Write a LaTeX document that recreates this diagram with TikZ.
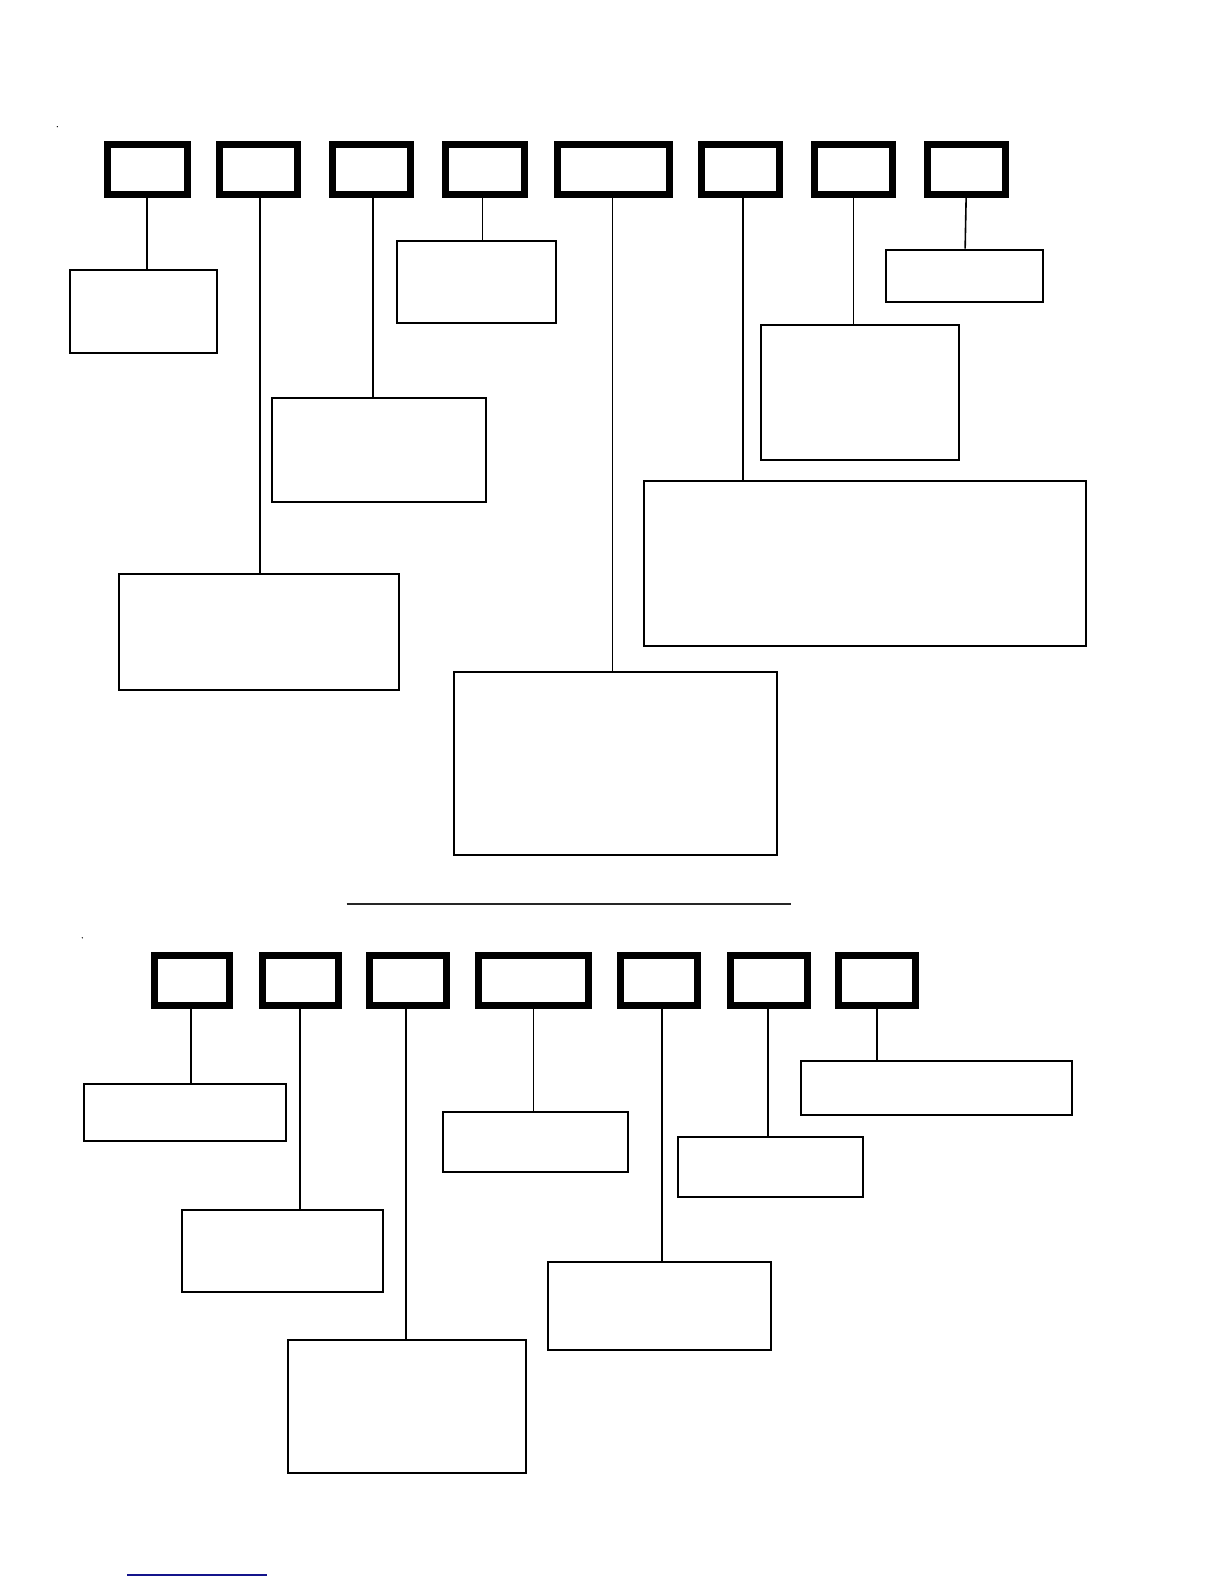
\documentclass[tikz,border=0pt]{standalone}
\begin{document}
\begin{tikzpicture}[x=1.0106pt,y=-1.0106pt,
  hdr/.style={draw=black,line width=7pt,inner sep=0pt},
  tbox/.style={draw=black,line width=2pt,inner sep=0pt},
  conn/.style={draw=black,line width=1.6pt}]
\fill[white] (0,0) rectangle (1211.2,1567.4);
\newcommand\mkhdr[5]{\node[hdr,minimum width={(#4-#2)*1.0106-7},minimum height={(#5-#3)*1.0106-7}] (#1) at ({(#2+#4)/2},{(#3+#5)/2}) {};}
\newcommand\mktbox[5]{\node[tbox,minimum width={(#4-#2)*1.0106-2},minimum height={(#5-#3)*1.0106-2}] (#1) at ({(#2+#4)/2},{(#3+#5)/2}) {};}
% top header row
\mkhdr{h1}{102.5}{140}{189}{196}
\mkhdr{h2}{214}{140}{298}{196}
\mkhdr{h3}{326}{140}{410}{196}
\mkhdr{h4}{437}{140}{522}{196}
\mkhdr{h5}{548}{140}{666}{196}
\mkhdr{h6}{691}{140}{775}{196}
\mkhdr{h7}{802}{140}{887}{196}
\mkhdr{h8}{914}{140}{998}{196}
% top thin boxes
\mktbox{A}{68}{266}{216}{350}
\mktbox{B}{117}{567}{396}{684}
\mktbox{C}{268}{393}{482}{498}
\mktbox{D}{392}{237}{551}{321}
\mktbox{E}{448}{664}{770}{847}
\mktbox{F}{636}{475}{1076}{640}
\mktbox{G}{752}{321}{950}{456}
\mktbox{H}{876}{246}{1033}{300}
\draw[conn] (h1.south) -- (h1.south |- A.north);
\draw[conn] ([xshift=1]h2.south) -- ([xshift=1]h2.south |- B.north);
\draw[conn] ([xshift=1]h3.south) -- ([xshift=1]h3.south |- C.north);
\draw[conn] ([xshift=-2]h4.south) -- ([xshift=-2]h4.south |- D.north);
\draw[conn] ([xshift=-1]h5.south) -- ([xshift=-1]h5.south |- E.north);
\draw[conn] ([xshift=2]h6.south) -- ([xshift=2]h6.south |- F.north);
\draw[conn] (h7.south) -- (h7.south |- G.north);
\draw[conn] (h8.south) -- ([xshift=-1]h8.south |- H.north);
% separator
\coordinate (s1) at (343,895);
\coordinate (s2) at (783,895);
\draw[line width=2pt,draw=black!85] (s1) -- (s2);
% bottom header row
\mkhdr{k1}{149}{942}{231}{998}
\mkhdr{k2}{256}{942}{338}{998}
\mkhdr{k3}{362}{942}{445}{998}
\mkhdr{k4}{470}{942}{586}{998}
\mkhdr{k5}{611}{942}{694}{998}
\mkhdr{k6}{719}{942}{802}{998}
\mkhdr{k7}{826}{942}{909}{998}
% bottom thin boxes
\mktbox{a}{82}{1072}{284}{1130}
\mktbox{b}{179}{1196}{380}{1279}
\mktbox{c}{284}{1325}{521}{1459}
\mktbox{d}{437}{1099}{622}{1161}
\mktbox{e}{541}{1248}{764}{1337}
\mktbox{f}{670}{1124}{855}{1185}
\mktbox{g}{792}{1049}{1062}{1104}
\draw[conn] ([xshift=-1]k1.south) -- ([xshift=-1]k1.south |- a.north);
\draw[conn] (k2.south) -- (k2.south |- b.north);
\draw[conn] ([xshift=-1.5]k3.south) -- ([xshift=-1.5]k3.south |- c.north);
\draw[conn] (k4.south) -- (k4.south |- d.north);
\draw[conn] ([xshift=2.5]k5.south) -- ([xshift=2.5]k5.south |- e.north);
\draw[conn] ([xshift=-0.5]k6.south) -- ([xshift=-0.5]k6.south |- f.north);
\draw[conn] (k7.south) -- (k7.south |- g.north);
% tiny specks
\fill[black] (56.7,125.4) circle (0.7);
\fill[black] (81.5,928) circle (0.7);
% blue underline
\coordinate (u1) at (125.7,1558.5);
\coordinate (u2) at (264.2,1558.5);
\draw[line width=1.5pt,draw={rgb,255:red,20;green,20;blue,140}] (u1) -- (u2);
\pgfresetboundingbox
\useasboundingbox (0,0) rectangle (1211.2,1567.4);
\end{tikzpicture}
\end{document}
